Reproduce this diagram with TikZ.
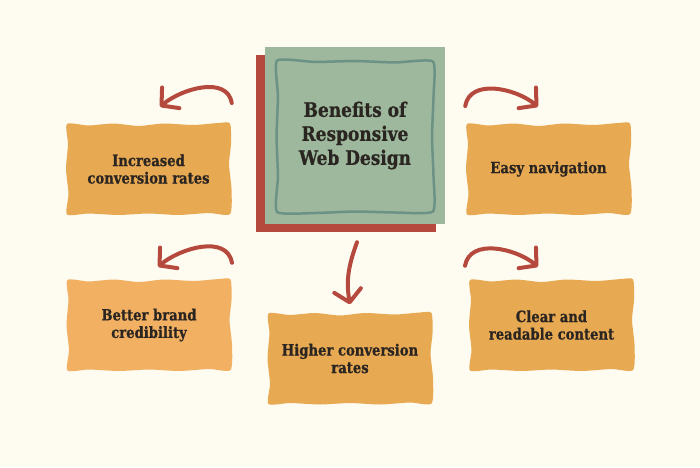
\documentclass[tikz,border=0pt]{standalone}
\usepackage{fontspec}
\setmainfont{DejaVu Serif}[FakeStretch=0.85, BoldFeatures={FakeBold=0.7}]
\usetikzlibrary{arrows.meta, shadows}

\definecolor{paper}{HTML}{FEFBF0}
\definecolor{boxorange}{HTML}{E8A953}
\definecolor{lightorange}{HTML}{F2B062}
\definecolor{sage}{HTML}{9DB89C}
\definecolor{darksage}{HTML}{6B9285}
\definecolor{brick}{HTML}{B5493D}
\definecolor{ink}{HTML}{2A2521}

\pgfdeclarelayer{back}
\pgfsetlayers{back,main}

\newcommand{\tornsheet}[2]{%
    \fill[#2] plot[smooth cycle, tension=0.4] coordinates {
        ([shift={(-81.5,45)}]#1.center) ([shift={(-60,43.5)}]#1.center) ([shift={(-35,45.5)}]#1.center)
        ([shift={(-10,43)}]#1.center) ([shift={(15,45.5)}]#1.center) ([shift={(45,44)}]#1.center)
        ([shift={(70,46)}]#1.center) ([shift={(81.5,45.5)}]#1.center)
        ([shift={(82.5,25)}]#1.center) ([shift={(80.5,5)}]#1.center) ([shift={(83,-20)}]#1.center)
        ([shift={(81.5,-45)}]#1.center) ([shift={(60,-44)}]#1.center) ([shift={(30,-46)}]#1.center)
        ([shift={(0,-44.5)}]#1.center) ([shift={(-30,-46)}]#1.center) ([shift={(-60,-44.5)}]#1.center)
        ([shift={(-81.5,-45.5)}]#1.center) ([shift={(-80,-25)}]#1.center) ([shift={(-82.5,0)}]#1.center)
        ([shift={(-80.5,25)}]#1.center)};%
}

\tikzset{
    card/.style={minimum width=163pt, minimum height=90pt,
        align=center, text=ink, font=\bfseries\fontsize{15.5}{17.5}\selectfont},
    hubbox/.style={fill=sage, minimum width=180pt, minimum height=177pt,
        align=center, text=ink, font=\bfseries\fontsize{20}{24}\selectfont,
        drop shadow={shadow xshift=-9pt, shadow yshift=-8pt, fill=brick, opacity=1}},
    innerline/.style={draw=darksage, line width=2.5pt, line join=round},
    curvy/.style={draw=brick, line width=4pt, line cap=round,
        -{Straight Barb[length=12pt, width=27pt, round]}}
}

\begin{document}
\begin{tikzpicture}[x=1pt, y=1pt]
    \begin{pgfonlayer}{back}
        \fill[paper] (0,0) rectangle (700,467);
    \end{pgfonlayer}
    \useasboundingbox (0,0) rectangle (700,467);

    \node[hubbox] (hub) at (355,331.5) {Benefits of\\Responsive\\Web Design};
    \draw[innerline] plot[smooth cycle, tension=0.3] coordinates {
        ([shift={(-78,75)}]hub.center) ([shift={(-40,73.5)}]hub.center) ([shift={(0,74.5)}]hub.center)
        ([shift={(40,73)}]hub.center) ([shift={(78,74)}]hub.center) ([shift={(78.5,39)}]hub.center)
        ([shift={(77,-1)}]hub.center) ([shift={(78.5,-41)}]hub.center) ([shift={(78,-76)}]hub.center)
        ([shift={(40,-77)}]hub.center) ([shift={(0,-76)}]hub.center) ([shift={(-40,-77.5)}]hub.center)
        ([shift={(-78,-76.5)}]hub.center) ([shift={(-77,-41)}]hub.center) ([shift={(-78.5,-1)}]hub.center)
        ([shift={(-77,39)}]hub.center)};

    \node[card] (incr) at (148.5,298) {Increased\\conversion rates};
    \node[card] (easy) at (548.5,298) {Easy navigation};
    \node[card] (brand) at (149,142) {Better brand\\credibility};
    \node[card] (clear) at (551.5,142) {Clear and\\readable content};
    \node[card] (higher) at (350,108.5) {Higher conversion\\rates};

    \begin{pgfonlayer}{back}
        \tornsheet{incr}{boxorange}
        \tornsheet{easy}{boxorange}
        \tornsheet{brand}{lightorange}
        \tornsheet{clear}{boxorange}
        \tornsheet{higher}{boxorange}
    \end{pgfonlayer}

    \draw[curvy] ([shift={(-33,32.5)}]hub.west) to[out=100, in=40] ([shift={(11.5,17)}]incr.north);
    \draw[curvy] ([shift={(20,29.5)}]hub.east) to[out=80, in=140] ([shift={(-10.5,17)}]easy.north);
    \draw[curvy] ([shift={(83,17)}]brand.north) to[out=100, in=40] ([shift={(9,13)}]brand.north);
    \draw[curvy] ([shift={(-86.5,14)}]clear.north) to[out=80, in=140] ([shift={(-13.5,13)}]clear.north);
    \draw[curvy] ([shift={(2,-18)}]hub.south) to[out=250, in=100] ([shift={(0,9)}]higher.north);
\end{tikzpicture}
\end{document}
